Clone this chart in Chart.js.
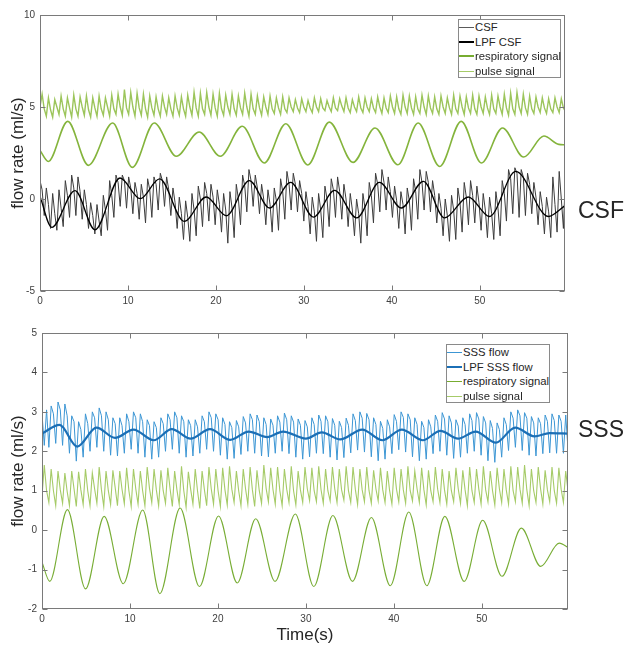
<!DOCTYPE html>
<html>
<head>
<meta charset="utf-8">
<script src="https://cdn.jsdelivr.net/npm/chart.js@4.4.1/dist/chart.umd.min.js"></script>
<style>
  html, body { margin: 0; padding: 0; background: #fff; }
  #wrap { position: relative; width: 627px; height: 646px; overflow: hidden;
          font-family: "Liberation Sans", Arial, Helvetica, sans-serif; color: #262626; }
  canvas { position: absolute; left: 0; }
  .ytitle { position: absolute; font-size: 17px; line-height: 17px; white-space: nowrap;
            transform: translate(-50%, -50%) rotate(-90deg); }
  .xtitle { position: absolute; font-size: 17px; line-height: 17px; white-space: nowrap;
            transform: translateX(-50%); }
  .tag { position: absolute; font-size: 23px; line-height: 23px; white-space: nowrap; }
  .legend { position: absolute; border: 1px solid #8a8a8a; background: #fff; box-sizing: border-box;
            font-size: 11.3px; }
  .legend .row { position: relative; height: 14.7px; line-height: 14.7px; white-space: nowrap; }
  .legend .swatch { position: absolute; left: 0; width: 15px; }
  .legend .label { position: absolute; left: 16px; top: 0; }
</style>
</head>
<body>
<div id="wrap">
  <canvas id="csfChart" width="627" height="310" style="top:0"></canvas>
  <canvas id="sssChart" width="627" height="336" style="top:310px"></canvas>

  <div class="ytitle" style="left:16.5px; top:153px;">flow rate (ml/s)</div>
  <div class="ytitle" style="left:17px; top:471px;">flow rate (ml/s)</div>
  <div class="xtitle" style="left:305px; top:626px;">Time(s)</div>
  <div class="tag" style="left:578px; top:198.5px;">CSF</div>
  <div class="tag" style="left:578px; top:417.5px;">SSS</div>

  <div class="legend" id="csfLegend" style="left:458px; top:19px; width:103px; height:59px;"></div>
  <div class="legend" id="sssLegend" style="left:446px; top:344px; width:104px; height:59px;"></div>
</div>

<script>
// ---------- CSF recording (upper panel) ----------
// raw signals sampled every 0.24 s: three samples per cardiac beat
const csfStep = 0.24;

const csfFlow = [
  1.0, 0.5, -0.9,   0.6, -0.3, -1.6,   0.3, -0.8, -1.7,   0.5, -0.5, -1.5,
  1.0, 0.2, -1.0,   1.3, 0.6, -0.9,    1.2, 0.4, -1.1,    0.5, -0.3, -1.6,
  -0.2, -0.9, -1.9, -0.3, -1.2, -2.0,  0.2, -0.6, -1.7,   1.0, 0.2, -1.0,
  1.3, 0.9, -0.4,   1.3, 1.0, -0.5,    1.2, 0.6, -0.8,    0.9, 0.3, -1.1,
  0.8, 0.1, -1.3,   1.1, 0.5, -1.0,    1.2, 0.8, -0.6,    1.4, 1.0, -0.4,
  1.2, 0.5, -0.9,   0.6, -0.2, -1.6,   0.1, -0.8, -2.2,   -0.1, -1.0, -2.3,
  0.3, -0.6, -2.0,  0.7, 0.0, -1.5,    0.9, 0.3, -1.2,    0.8, 0.1, -1.4,
  0.5, -0.3, -1.8,  0.3, -0.6, -2.4,   0.4, -0.5, -2.1,   0.8, 0.0, -1.4,
  1.3, 0.7, -0.7,   1.6, 1.0, -0.4,    1.3, 0.6, -0.8,    0.8, 0.0, -1.4,
  0.5, -0.3, -1.8,  0.6, -0.1, -1.7,   1.1, 0.4, -1.1,    1.5, 0.8, -0.6,
  1.4, 0.8, -0.7,   1.0, 0.3, -1.2,    0.4, -0.4, -1.9,   0.1, -0.7, -2.3,
  0.3, -0.6, -2.1,  0.7, 0.0, -1.5,    1.1, 0.5, -1.0,    1.2, 0.4, -1.1,
  0.8, 0.0, -1.5,   0.3, -0.6, -2.0,   0.0, -0.8, -2.4,   0.3, -0.5, -2.0,
  0.9, 0.2, -1.3,   1.4, 0.8, -0.7,    1.6, 0.9, -0.6,    1.2, 0.4, -1.0,
  0.7, -0.1, -1.6,  0.4, -0.3, -1.9,   0.6, -0.1, -1.7,   1.1, 0.4, -1.1,
  1.6, 0.9, -0.6,   1.5, 0.9, -0.7,    1.0, 0.2, -1.3,    0.3, -0.5, -2.0,
  0.0, -0.9, -2.3,  0.2, -0.6, -2.2,   0.6, -0.2, -1.8,   0.9, 0.1, -1.4,
  1.0, 0.2, -1.3,   0.7, -0.2, -1.7,   0.3, -0.6, -2.1,   0.1, -0.8, -2.2,
  0.4, -0.5, -2.0,  1.0, 0.3, -1.2,    1.6, 1.1, -0.8,    1.7, 1.4, -1.0,
  1.6, 1.2, -0.9,   1.4, 0.8, -0.8,    0.9, 0.1, -1.4,    0.4, -0.4, -1.9,
  0.1, -0.7, -2.1,  1.2, -0.3, -1.8,   1.5, 0.0, -1.6,    1.4, 0.3, -1.3
];

const csfPulse = [
  5.0, 5.7, 4.9,    4.5, 5.5, 4.85,   4.45, 5.4, 5.0,   4.6, 5.6, 4.9,
  4.5, 5.5, 4.95,   4.45, 5.65, 4.9,  4.5, 5.55, 5.0,   4.55, 5.6, 4.85,
  4.45, 5.5, 4.95,  4.5, 5.6, 4.9,    4.55, 5.5, 5.0,   4.5, 5.65, 4.9,
  4.6, 5.7, 5.0,    4.55, 5.95, 4.95, 4.6, 5.8, 5.0,    4.5, 5.75, 4.95,
  4.55, 5.7, 4.9,   4.45, 5.6, 4.95,  4.55, 5.55, 4.9,  4.5, 5.6, 5.0,
  4.6, 5.5, 4.9,    4.5, 5.6, 4.95,   4.55, 5.55, 4.9,  4.5, 5.65, 5.0,
  4.55, 5.8, 4.95,  4.5, 5.75, 4.9,   4.6, 5.8, 5.0,    4.55, 5.7, 4.95,
  4.5, 5.75, 4.9,   4.55, 5.65, 5.0,  4.6, 5.7, 4.9,    4.55, 5.6, 4.95,
  4.6, 5.75, 5.0,   4.5, 5.7, 4.9,    4.6, 5.6, 4.95,   4.55, 5.55, 5.0,
  4.6, 5.6, 4.9,    4.65, 5.5, 4.95,  4.6, 5.55, 4.9,   4.7, 5.5, 5.0,
  4.75, 5.4, 4.95,  4.7, 5.45, 5.0,   4.75, 5.35, 4.95, 4.7, 5.5, 5.0,
  4.75, 5.45, 4.95, 4.8, 5.35, 5.0,   4.75, 5.5, 4.95,  4.8, 5.45, 5.05,
  4.75, 5.5, 4.95,  4.7, 5.4, 5.0,    4.75, 5.55, 4.95, 4.7, 5.5, 5.0,
  4.75, 5.45, 4.95, 4.7, 5.55, 5.0,   4.65, 5.5, 4.95,  4.7, 5.6, 5.0,
  4.65, 5.55, 4.9,  4.6, 5.65, 5.0,   4.65, 5.6, 4.95,  4.6, 5.55, 4.9,
  4.65, 5.65, 5.0,  4.6, 5.6, 4.95,   4.65, 5.55, 4.9,  4.6, 5.6, 5.0,
  4.65, 5.5, 4.95,  4.6, 5.65, 4.9,   4.65, 5.6, 5.0,   4.6, 5.55, 4.95,
  4.65, 5.65, 4.9,  4.6, 5.6, 5.0,    4.65, 5.55, 4.95, 4.6, 5.65, 4.9,
  4.65, 5.6, 5.0,   4.6, 5.7, 4.95,   4.55, 5.75, 4.9,  4.6, 5.8, 5.0,
  4.65, 5.7, 4.95,  4.6, 5.6, 4.9,    4.65, 5.55, 5.0,  4.7, 5.5, 4.95,
  4.65, 5.45, 4.9,  4.7, 5.5, 5.0,    4.7, 5.45, 4.95,  4.75, 5.05, 5.05
];

// low-pass filtered CSF flow: turning points (s, ml/s)
const csfLpfTime = [0, 1.33, 3.98, 6.25, 9.1, 11.4, 13.6, 16.4, 18.9, 21.2, 23.8, 26.1, 28.5,
  31.1, 33.5, 36.0, 38.6, 41.1, 43.6, 46.0, 48.7, 51.1, 54.1, 57.8, 59.7];
const csfLpfValue = [0.14, -1.54, 0.45, -1.67, 1.14, 0.02, 1.09, -1.22, 0.11, -0.91, 1.0, -0.49, 0.9,
  -0.98, 0.47, -1.03, 0.9, -0.49, 0.96, -1.03, 0.11, -0.95, 1.5, -0.95, -0.36];

// respiratory signal: turning points (s, ml/s)
const csfRespTime = [0, 0.94, 3.15, 5.5, 8.26, 10.5, 13.0, 15.5, 18.1, 20.5, 23.0, 25.5, 27.95,
  30.45, 32.9, 35.6, 38.1, 40.7, 43.0, 45.45, 47.9, 50.2, 52.6, 55.0, 57.3, 59.0, 59.7];
const csfRespValue = [2.64, 2.04, 4.22, 1.83, 4.13, 1.72, 4.13, 2.32, 3.64, 2.32, 3.95, 1.96, 4.09,
  1.85, 4.18, 1.99, 3.86, 1.86, 4.13, 1.77, 4.22, 1.96, 3.86, 2.28, 3.42, 2.97, 2.95];

// ---------- SSS recording (lower panel) ----------
// raw signals sampled every 0.26 s: three samples per cardiac beat
const sssStep = 0.26;

const sssFlow = [
  2.95, 2.15, 3.05,  2.1, 3.15, 2.95,   2.2, 3.25, 3.05,   2.15, 3.2, 2.9,
  1.95, 2.9, 2.75,   1.75, 2.75, 2.55,  1.85, 2.95, 2.7,   2.0, 3.0, 2.85,
  2.1, 3.1, 2.9,     2.0, 3.0, 2.8,     1.9, 2.85, 2.7,    1.88, 2.85, 2.65,
  1.95, 2.95, 2.75,  2.05, 3.0, 2.85,   1.95, 2.95, 2.75,  1.85, 2.8, 2.65,
  1.8, 2.75, 2.6,    1.85, 2.85, 2.7,   2.0, 2.95, 2.8,    2.05, 3.0, 2.85,
  1.95, 2.9, 2.75,   1.85, 2.8, 2.65,   1.88, 2.8, 2.62,   1.95, 2.9, 2.75,
  2.05, 3.0, 2.85,   2.0, 2.95, 2.8,    1.9, 2.85, 2.68,   1.8, 2.75, 2.6,
  1.82, 2.78, 2.62,  1.92, 2.88, 2.72,  2.0, 2.95, 2.8,    1.95, 2.92, 2.75,
  1.88, 2.85, 2.68,  1.86, 2.82, 2.66,  1.95, 2.9, 2.74,   2.0, 2.97, 2.8,
  1.94, 2.9, 2.74,   1.85, 2.82, 2.66,  1.8, 2.78, 2.62,   1.86, 2.85, 2.68,
  1.95, 2.92, 2.76,  1.94, 2.9, 2.75,   1.85, 2.83, 2.66,  1.78, 2.76, 2.6,
  1.84, 2.84, 2.66,  1.96, 2.95, 2.78,  2.03, 3.0, 2.84,   1.98, 2.96, 2.8,
  1.86, 2.85, 2.68,  1.76, 2.76, 2.58,  1.8, 2.8, 2.62,    1.94, 2.93, 2.76,
  2.04, 3.0, 2.86,   1.98, 2.95, 2.8,   1.86, 2.85, 2.68,  1.76, 2.76, 2.6,
  1.8, 2.8, 2.62,    1.94, 2.92, 2.76,  2.0, 2.98, 2.82,   1.9, 2.9, 2.72,
  1.82, 2.8, 2.64,   1.85, 2.85, 2.68,  1.95, 2.95, 2.78,  2.0, 2.98, 2.82,
  1.9, 2.88, 2.72,   1.76, 2.78, 2.58,  1.72, 2.72, 2.55,  1.85, 2.85, 2.68,
  2.02, 3.0, 2.84,   2.1, 3.05, 2.9,    2.02, 2.98, 2.84,  1.9, 2.88, 2.72,
  1.88, 2.85, 2.7,   1.94, 2.92, 2.76,  1.96, 2.95, 2.78,  1.95, 2.92, 2.76,
  1.95, 2.92, 2.05
];

const sssPulse = [
  0.85, 1.65, 1.0,  0.7, 1.55, 1.0,   0.62, 1.5, 1.02,  0.68, 1.45, 0.98,
  0.62, 1.5, 1.05,  0.6, 1.48, 1.02,  0.65, 1.55, 1.0,  0.62, 1.45, 1.05,
  0.68, 1.6, 1.02,  0.6, 1.5, 1.0,    0.65, 1.52, 1.08, 0.62, 1.5, 1.03,
  0.67, 1.58, 1.0,  0.6, 1.55, 1.05,  0.66, 1.5, 1.0,   0.62, 1.6, 1.06,
  0.7, 1.55, 1.02,  0.62, 1.52, 1.0,  0.68, 1.58, 1.05, 0.6, 1.5, 1.02,
  0.65, 1.62, 1.0,  0.58, 1.48, 1.04, 0.66, 1.55, 1.0,  0.55, 1.5, 1.03,
  0.62, 1.6, 1.05,  0.66, 1.55, 1.0,  0.6, 1.58, 1.02,  0.64, 1.62, 1.04,
  0.7, 1.5, 1.0,    0.62, 1.55, 1.05, 0.66, 1.6, 1.02,  0.6, 1.52, 1.0,
  0.68, 1.65, 1.06, 0.72, 1.58, 1.03, 0.66, 1.6, 1.0,   0.62, 1.55, 1.04,
  0.7, 1.62, 1.0,   0.64, 1.5, 1.02,  0.7, 1.6, 1.05,   0.75, 1.58, 1.0,
  0.72, 1.62, 1.03, 0.68, 1.55, 1.0,  0.74, 1.6, 1.05,  0.7, 1.55, 1.02,
  0.76, 1.62, 1.0,  0.7, 1.6, 1.04,   0.65, 1.55, 1.02, 0.72, 1.6, 1.0,
  0.68, 1.52, 1.05, 0.74, 1.58, 1.02, 0.7, 1.5, 1.0,    0.66, 1.58, 1.04,
  0.72, 1.55, 1.02, 0.68, 1.62, 1.0,  0.74, 1.5, 1.05,  0.7, 1.58, 1.02,
  0.64, 1.52, 1.0,  0.72, 1.6, 1.04,  0.7, 1.55, 1.02,  0.66, 1.5, 1.0,
  0.72, 1.58, 1.05, 0.68, 1.52, 1.02, 0.62, 1.6, 1.0,   0.7, 1.55, 1.04,
  0.66, 1.62, 1.02, 0.72, 1.5, 1.0,   0.64, 1.58, 1.05, 0.7, 1.55, 1.02,
  0.66, 1.62, 1.0,  0.72, 1.6, 1.04,  0.68, 1.65, 1.02, 0.62, 1.55, 1.0,
  0.7, 1.6, 1.05,   0.66, 1.52, 1.02, 0.72, 1.6, 1.0,   0.68, 1.58, 1.04,
  0.7, 1.5, 1.0
];

// low-pass filtered SSS flow: turning points (s, ml/s)
const sssLpfTime = [0, 2.0, 4.0, 6.2, 8.3, 10.4, 12.7, 14.75, 16.9, 19.1, 21.4, 23.5, 25.6, 27.4,
  30.0, 31.8, 33.9, 36.4, 38.7, 40.9, 43.3, 45.3, 47.3, 49.3, 51.6, 53.8, 56.0, 57.7, 59.8];
const sssLpfValue = [2.45, 2.67, 2.12, 2.60, 2.34, 2.55, 2.28, 2.56, 2.32, 2.56, 2.29, 2.50, 2.36, 2.50,
  2.32, 2.48, 2.30, 2.55, 2.28, 2.55, 2.28, 2.52, 2.32, 2.50, 2.22, 2.60, 2.38, 2.46, 2.45];

// respiratory signal: turning points (s, ml/s)
const sssRespTime = [0, 0.88, 2.89, 4.95, 7.07, 9.24, 11.45, 13.4, 15.7, 17.9, 20.07, 22.2, 24.3,
  26.5, 28.8, 30.9, 33.07, 35.3, 37.45, 39.6, 41.7, 43.75, 45.8, 48.0, 50.1, 52.3, 54.5, 56.7, 58.8, 59.9];
const sssRespValue = [-0.81, -1.30, 0.52, -1.49, 0.35, -1.36, 0.51, -1.61, 0.56, -1.43, 0.36, -1.34, 0.29,
  -1.30, 0.41, -1.43, 0.37, -1.30, 0.32, -1.41, 0.46, -1.41, 0.35, -1.30, 0.25, -1.17, 0.05, -0.92, -0.33, -0.45];

// ---------- helpers ----------
const sampled = (step, values) => values.map((v, i) => ({ x: i * step, y: v }));
const paired = (times, values) => times.map((t, i) => ({ x: t, y: values[i] }));

const AXIS_GREY = '#7a7a7a';
const TICK_TEXT = '#404040';

// MATLAB-style box with inward tick marks on all four sides
const axesBox = {
  id: 'axesBox',
  afterDatasetsDraw(chart) {
    const { ctx, chartArea: a, scales } = chart;
    const L = Math.round(a.left) + 0.5, R = Math.round(a.right) - 0.5;
    const T = Math.round(a.top) + 0.5, B = Math.round(a.bottom) - 0.5;
    ctx.save();
    ctx.strokeStyle = AXIS_GREY;
    ctx.lineWidth = 1;
    ctx.strokeRect(L, T, R - L, B - T);
    ctx.beginPath();
    scales.x.ticks.forEach(t => {
      const px = Math.round(scales.x.getPixelForValue(t.value)) + 0.5;
      ctx.moveTo(px, B); ctx.lineTo(px, B - 5);
      ctx.moveTo(px, T); ctx.lineTo(px, T + 5);
    });
    scales.y.ticks.forEach(t => {
      const py = Math.round(scales.y.getPixelForValue(t.value)) + 0.5;
      ctx.moveTo(L, py); ctx.lineTo(L + 5, py);
      ctx.moveTo(R, py); ctx.lineTo(R - 5, py);
    });
    ctx.stroke();
    ctx.restore();
  }
};

function makeOptions(cfg) {
  return {
    responsive: false,
    animation: false,
    devicePixelRatio: 1,
    parsing: false,
    normalized: true,
    events: [],
    layout: { padding: cfg.padding },
    elements: { point: { radius: 0 } },
    plugins: { legend: { display: false }, tooltip: { enabled: false }, title: { display: false } },
    scales: {
      x: {
        type: 'linear', min: 0, max: cfg.xMax,
        grid: { display: false, drawTicks: false },
        border: { display: false },
        ticks: { stepSize: 10, includeBounds: false, padding: 4, color: TICK_TEXT,
                 font: { family: '"Liberation Sans", Arial, sans-serif', size: 10 } },
        afterFit: s => { s.height = cfg.xHeight; }
      },
      y: {
        type: 'linear', min: cfg.yMin, max: cfg.yMax,
        grid: { display: false, drawTicks: false },
        border: { display: false },
        ticks: { stepSize: cfg.yStep, padding: 5, color: TICK_TEXT,
                 font: { family: '"Liberation Sans", Arial, sans-serif', size: 10 } },
        afterFit: s => { s.width = cfg.yWidth; }
      }
    }
  };
}

// ---------- upper panel ----------
const csfSeries = [
  { label: 'LPF CSF', data: paired(csfLpfTime, csfLpfValue), borderColor: '#000000', borderWidth: 1.3,
    cubicInterpolationMode: 'monotone' },
  { label: 'CSF', data: sampled(csfStep, csfFlow), borderColor: '#3c3c3c', borderWidth: 1, tension: 0 },
  { label: 'respiratory signal', data: paired(csfRespTime, csfRespValue), borderColor: '#84B43C', borderWidth: 1.6,
    cubicInterpolationMode: 'monotone' },
  { label: 'pulse signal', data: sampled(csfStep, csfPulse), borderColor: '#9CC55B', borderWidth: 1.4, tension: 0 }
];

new Chart(document.getElementById('csfChart'), {
  type: 'line',
  data: { datasets: csfSeries },
  options: makeOptions({ padding: { left: 0, top: 15, right: 62, bottom: 0 },
    xMax: 59.7, xHeight: 19, yMin: -5, yMax: 10, yStep: 5, yWidth: 40 }),
  plugins: [axesBox]
});

// ---------- lower panel ----------
const sssSeries = [
  { label: 'LPF SSS flow', data: paired(sssLpfTime, sssLpfValue), borderColor: '#1B6FB6', borderWidth: 2.2,
    cubicInterpolationMode: 'monotone' },
  { label: 'SSS flow', data: sampled(sssStep, sssFlow), borderColor: '#3C96D4', borderWidth: 1, tension: 0 },
  { label: 'respiratory signal', data: paired(sssRespTime, sssRespValue), borderColor: '#78AD35', borderWidth: 1.1,
    cubicInterpolationMode: 'monotone' },
  { label: 'pulse signal', data: sampled(sssStep, sssPulse), borderColor: '#A6CB68', borderWidth: 1.1, tension: 0 }
];

new Chart(document.getElementById('sssChart'), {
  type: 'line',
  data: { datasets: sssSeries },
  options: makeOptions({ padding: { left: 0, top: 23, right: 59, bottom: 0 },
    xMax: 59.8, xHeight: 37, yMin: -2, yMax: 5, yStep: 1, yWidth: 42 }),
  plugins: [axesBox]
});

// ---------- legends ----------
function buildLegend(el, entries) {
  entries.forEach(e => {
    const row = document.createElement('div');
    row.className = 'row';
    const sw = document.createElement('div');
    sw.className = 'swatch';
    sw.style.height = e.width + 'px';
    sw.style.background = e.color;
    sw.style.top = (7 - Math.floor(e.width / 2)) + 'px';
    const lab = document.createElement('div');
    lab.className = 'label';
    lab.textContent = e.label;
    row.appendChild(sw);
    row.appendChild(lab);
    el.appendChild(row);
  });
}

buildLegend(document.getElementById('csfLegend'), [
  { label: 'CSF', color: '#5a5a5a', width: 1 },
  { label: 'LPF CSF', color: '#000000', width: 2 },
  { label: 'respiratory signal', color: '#77AC30', width: 2 },
  { label: 'pulse signal', color: '#A6CB68', width: 1 }
]);
buildLegend(document.getElementById('sssLegend'), [
  { label: 'SSS flow', color: '#3C96D4', width: 1 },
  { label: 'LPF SSS flow', color: '#1B6FB6', width: 2 },
  { label: 'respiratory signal', color: '#77AC30', width: 1 },
  { label: 'pulse signal', color: '#A6CB68', width: 1 }
]);
</script>
</body>
</html>
